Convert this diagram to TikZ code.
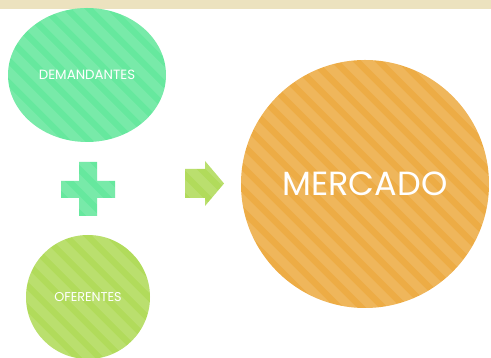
\documentclass[tikz,border=0pt]{standalone}
\usepackage{fontspec}
\setmainfont{Poppins}
\usetikzlibrary{shapes.geometric}
\definecolor{mint}{HTML}{66E89E}
\definecolor{lime}{HTML}{B1DB5B}
\definecolor{amber}{HTML}{EDAC45}
\definecolor{sand}{HTML}{ECE2BF}
\tikzset{
  stripes/.style={path picture={
    \begin{scope}[shift={(path picture bounding box.center)}]
      \foreach \k in {-16,...,16}{
        \draw[white, opacity=.12, line width=9pt] (\k*22-160,160) -- ++(320,-320);
      }
    \end{scope}}},
  blob/.style={circle, inner sep=0pt, text=white, stripes}
}
\begin{document}
\begin{tikzpicture}[x=1pt, y=1pt]
  \useasboundingbox (0,0) rectangle (491,358);
  \fill[sand] (0,349) rectangle (491,358);
  % left column
  \node[blob, ellipse, fill=mint, minimum width=158pt, minimum height=134pt,
        font=\fontsize{13.4}{15}\selectfont] (dem) at (87,283) {DEMANDANTES};
  \node[blob, fill=lime, minimum size=124pt,
        font=\fontsize{12.8}{15}\selectfont] (ofe) at (88,61) {OFERENTES};
  \fill[mint, stripes] (79,196) -- (97,196) -- (97,177) -- (115,177) -- (115,160)
    -- (97,160) -- (97,142) -- (79,142) -- (79,160) -- (61,160) -- (61,177)
    -- (79,177) -- cycle;
  % arrow
  \fill[lime, stripes] (185,189) -- (205,189) -- (205,197) -- (224,174.5)
    -- (205,152) -- (205,160) -- (185,160) -- cycle;
  % right
  \node[blob, fill=amber, minimum size=248pt,
        font=\fontsize{33.5}{38}\selectfont] (mer) at (365,174) {MERCADO};
\end{tikzpicture}
\end{document}
